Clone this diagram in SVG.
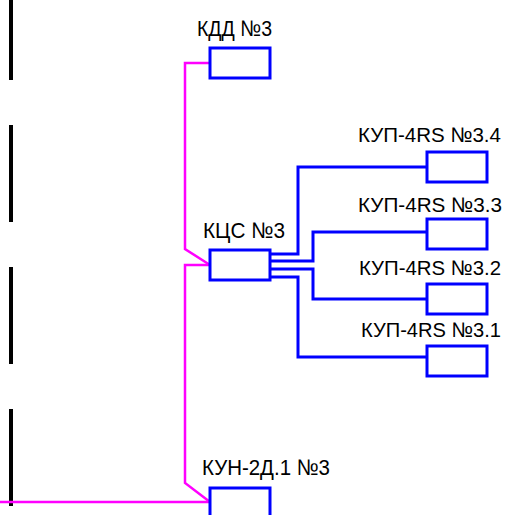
<svg xmlns="http://www.w3.org/2000/svg" width="506" height="515" viewBox="0 0 506 515">
<style>
.box{fill:#fff;stroke:#0000ff;stroke-width:3}
.bl{fill:none;stroke:#0000ff;stroke-width:3}
.mg{fill:none;stroke:#ff00ff;stroke-width:2.5}
.t{font-family:"Liberation Sans",Arial,sans-serif;font-size:22.5px;fill:#000}
.tk{font-family:"Liberation Sans",Arial,sans-serif;font-size:21px;fill:#000}
</style>
<rect width="506" height="515" fill="#fff"/>
<line x1="11" y1="0" x2="11" y2="515" stroke="#000" stroke-width="4" stroke-dasharray="97 45" stroke-dashoffset="17"/>
<g id="connectors">
<path class="mg" d="M210,63 H185 V249 L210,265"/>
<path class="mg" d="M210,265 H185 V483 L210,502"/>
<path class="mg" d="M0,502 H210"/>
<path class="bl" d="M270,254 H298 V167 H427"/>
<path class="bl" d="M270,261 H313 V232 H427"/>
<path class="bl" d="M270,269 H313 V299 H427"/>
<path class="bl" d="M270,277 H298 V357 H427"/>
</g>
<g id="kdd"><rect class="box" x="210" y="48" width="60" height="30"/><text class="t" x="197" y="36" textLength="75" lengthAdjust="spacingAndGlyphs">КДД №3</text></g>
<g id="kcs"><rect class="box" x="210" y="250" width="60" height="30"/><text class="t" x="203" y="238" textLength="82" lengthAdjust="spacingAndGlyphs">КЦС №3</text></g>
<g id="kun"><rect class="box" x="210" y="488" width="60" height="30"/><text class="t" x="202" y="475" textLength="128" lengthAdjust="spacingAndGlyphs">КУН-2Д.1 №3</text></g>
<g id="kup34"><rect class="box" x="427" y="152" width="60" height="30"/><text class="tk" x="358" y="142" textLength="143" lengthAdjust="spacingAndGlyphs">КУП-4RS №3.4</text></g>
<g id="kup33"><rect class="box" x="427" y="219" width="60" height="30"/><text class="tk" x="358" y="212" textLength="144" lengthAdjust="spacingAndGlyphs">КУП-4RS №3.3</text></g>
<g id="kup32"><rect class="box" x="427" y="284" width="60" height="30"/><text class="tk" x="359" y="275" textLength="142" lengthAdjust="spacingAndGlyphs">КУП-4RS №3.2</text></g>
<g id="kup31"><rect class="box" x="427" y="346" width="60" height="30"/><text class="tk" x="361" y="337" textLength="140" lengthAdjust="spacingAndGlyphs">КУП-4RS №3.1</text></g>
</svg>
